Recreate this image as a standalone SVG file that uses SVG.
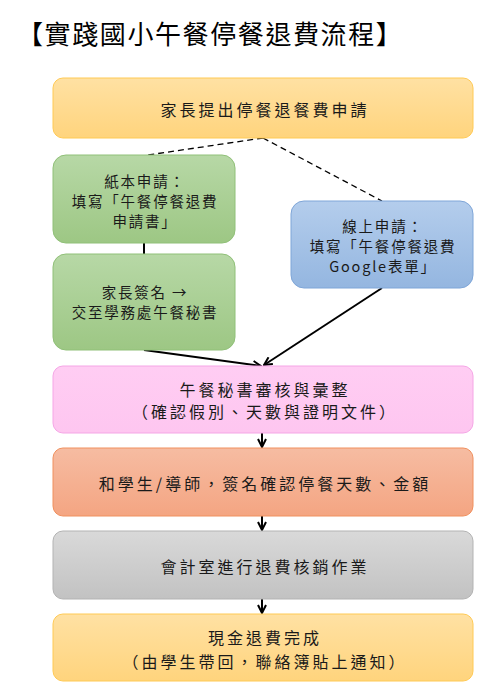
<svg xmlns="http://www.w3.org/2000/svg" width="501" height="700" viewBox="0 0 501 700">
<style>
text{font-family:"Noto Sans CJK TC","Noto Sans CJK SC",sans-serif;fill:#1a1a1a;text-anchor:middle;}
.t{font-size:26px;letter-spacing:1.6px;text-anchor:start;fill:#000;}
.m{font-size:16px;letter-spacing:3px;}
.s{font-size:14.5px;letter-spacing:1.8px;}
.conn{stroke:#000;stroke-width:2;fill:none;}
.dash{stroke:#000;stroke-width:1.3;stroke-dasharray:6 4;fill:none;}
</style>
<defs>
<linearGradient id="gY" x1="0" y1="0" x2="0" y2="1"><stop offset="0" stop-color="#FFE1A3"/><stop offset="1" stop-color="#FFD47D"/></linearGradient>
<linearGradient id="gG" x1="0" y1="0" x2="0" y2="1"><stop offset="0" stop-color="#B7D8A6"/><stop offset="1" stop-color="#9DC784"/></linearGradient>
<linearGradient id="gB" x1="0" y1="0" x2="0" y2="1"><stop offset="0" stop-color="#B4CDEC"/><stop offset="1" stop-color="#94B6E0"/></linearGradient>
<linearGradient id="gP" x1="0" y1="0" x2="0" y2="1"><stop offset="0" stop-color="#FFCDF3"/><stop offset="1" stop-color="#FEC6F0"/></linearGradient>
<linearGradient id="gO" x1="0" y1="0" x2="0" y2="1"><stop offset="0" stop-color="#F6BCA2"/><stop offset="1" stop-color="#F4A582"/></linearGradient>
<linearGradient id="gR" x1="0" y1="0" x2="0" y2="1"><stop offset="0" stop-color="#D9D9D9"/><stop offset="1" stop-color="#C2C2C2"/></linearGradient>
<marker id="ah" viewBox="0 0 10 10" refX="9" refY="5" markerWidth="5" markerHeight="5" orient="auto" markerUnits="strokeWidth">
<path d="M1,1 L9,5 L1,9" fill="none" stroke="#000" stroke-width="2"/>
</marker>
</defs>
<text class="t" x="17" y="44">【實踐國小午餐停餐退費流程】</text>
<g id="connectors">
<path class="dash" d="M263,138 L148,155"/>
<path class="dash" d="M263,138 L382,201"/>
<path class="conn" d="M144,243 L144,254" stroke-width="1.5"/>
<path class="conn" d="M144,350 L261,366" marker-end="url(#ah)"/>
<path class="conn" d="M382,288 L264,365" marker-end="url(#ah)"/>
<path class="conn" d="M262,433 L262,447" stroke-width="1.5" marker-end="url(#ah)"/>
<path class="conn" d="M262,516 L262,530" stroke-width="1.5" marker-end="url(#ah)"/>
<path class="conn" d="M262,599 L262,613" stroke-width="1.5" marker-end="url(#ah)"/>
</g>
<g id="n1">
<rect x="53" y="78" width="420" height="60" rx="10" fill="url(#gY)" stroke="#FFCA55" stroke-width="1"/>
<text class="m" x="265" y="116">家長提出停餐退餐費申請</text>
</g>
<g id="n2">
<rect x="53" y="155" width="182" height="88" rx="13" fill="url(#gG)" stroke="#90C078" stroke-width="1"/>
<text class="s" x="145" y="187">紙本申請：</text>
<text class="s" x="145" y="207">填寫「午餐停餐退費</text>
<text class="s" x="145" y="227">申請書」</text>
</g>
<g id="n3">
<rect x="53" y="254" width="182" height="96" rx="13" fill="url(#gG)" stroke="#90C078" stroke-width="1"/>
<text class="s" x="145" y="298">家長簽名 →</text>
<text class="s" x="145" y="318">交至學務處午餐秘書</text>
</g>
<g id="n4">
<rect x="291" y="201" width="182" height="87" rx="13" fill="url(#gB)" stroke="#7FA6D8" stroke-width="1"/>
<text class="s" x="383" y="232">線上申請：</text>
<text class="s" x="383" y="252">填寫「午餐停餐退費</text>
<text class="s" x="383" y="272">Google表單」</text>
</g>
<g id="n5">
<rect x="53" y="366" width="420" height="67" rx="10" fill="url(#gP)" stroke="#F5A6E6" stroke-width="1"/>
<text class="m" x="265" y="396">午餐秘書審核與彙整</text>
<text class="m" x="265" y="418">（確認假別、天數與證明文件）</text>
</g>
<g id="n6">
<rect x="53" y="448" width="420" height="68" rx="10" fill="url(#gO)" stroke="#F0905E" stroke-width="1"/>
<text class="m" x="265" y="490">和學生/導師，簽名確認停餐天數、金額</text>
</g>
<g id="n7">
<rect x="53" y="531" width="420" height="68" rx="10" fill="url(#gR)" stroke="#B3B3B3" stroke-width="1"/>
<text class="m" x="265" y="573">會計室進行退費核銷作業</text>
</g>
<g id="n8">
<rect x="53" y="614" width="420" height="67" rx="10" fill="url(#gY)" stroke="#FFCA55" stroke-width="1"/>
<text class="m" x="265" y="644">現金退費完成</text>
<text class="m" x="265" y="668">（由學生帶回，聯絡簿貼上通知）</text>
</g>
</svg>
